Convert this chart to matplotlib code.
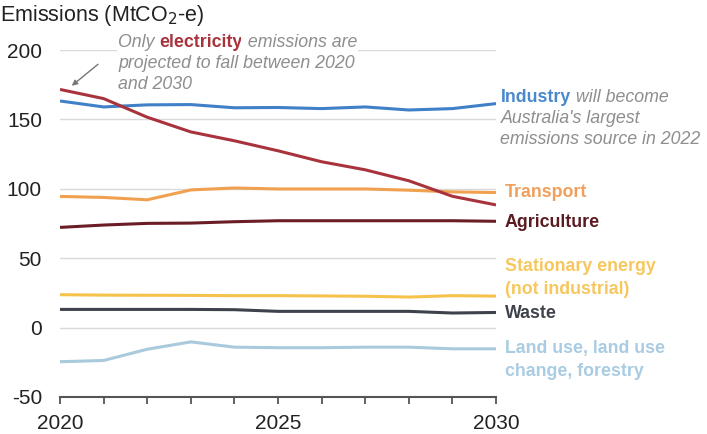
import matplotlib.pyplot as plt

plt.rcParams['font.family'] = ['Liberation Sans', 'DejaVu Sans']

years = list(range(2020, 2031))

electricity = [171.6, 165, 151.6, 141, 134.6, 127.4, 119.5, 113.7, 105.8, 94.6, 88.4]
industry = [163.3, 159, 160.5, 160.7, 158.4, 158.6, 157.8, 159, 156.8, 157.8, 161.4]
transport = [94.5, 93.8, 92.1, 99.2, 100.6, 99.9, 99.9, 99.9, 99, 97.8, 97.3]
agriculture = [72.2, 73.9, 75.1, 75.3, 76.3, 77, 77, 77, 77, 77, 76.6]
stationary = [23.7, 23.4, 23.3, 23.2, 23, 23, 22.8, 22.6, 22, 23, 22.7]
waste = [13.1, 13.1, 13.1, 13.1, 12.9, 11.7, 11.7, 11.7, 11.7, 10.5, 10.9]
lulucf = [-24.6, -23.7, -15.6, -10.3, -14.1, -14.5, -14.5, -14.1, -14.1, -15.3, -15.3]

fig = plt.figure(figsize=(7.07, 4.34), dpi=100)
ax = fig.add_axes([0.0849, 0.0853, 0.6167, 0.7994])

series = [
    (lulucf, '#a9c9dd'),
    (waste, '#3d424b'),
    (stationary, '#f5c24c'),
    (agriculture, '#6a1d25'),
    (transport, '#f0a04f'),
    (industry, '#3f80c6'),
    (electricity, '#a8333c'),
]
for vals, col in series:
    ax.plot(years, vals, color=col, lw=2.2, solid_capstyle='butt')

ax.set_xlim(2020, 2030)
ax.set_ylim(-50, 200)
ax.set_yticks([-50, 0, 50, 100, 150, 200])
ax.set_yticklabels(['-50', '0', '50', '100', '150', '200'])
ax.set_xticks(years)
ax.set_xticklabels(['2020', '', '', '', '', '2025', '', '', '', '', '2030'])
ax.tick_params(axis='y', length=0, pad=13, labelsize=15, labelcolor='#222222')
ax.tick_params(axis='x', direction='out', length=5, width=1.3, color='#555555',
               pad=7, labelsize=15, labelcolor='#222222')
for s in ['left', 'right', 'top']:
    ax.spines[s].set_visible(False)
ax.spines['bottom'].set_color('#555555')
ax.spines['bottom'].set_linewidth(1.5)
for v in [0, 50, 100, 150, 200]:
    ax.axhline(v, color='#d9d9d9', lw=1, zorder=0)

fig.text(0.0, 1 - 15 / 434, 'Emissions (MtCO$_2$-e)', fontsize=15.5,
         va='center', ha='left', color='#222222')

gray = '#8e8e8e'
fs = 12.8


def chain(first, parts):
    # put text pieces one after the other on a line
    prev = first
    for txt, kw in parts:
        prev = ax.annotate(txt, xy=(1, 0), xycoords=prev, va='bottom', ha='left',
                           fontsize=fs, annotation_clip=False, **kw)
    return prev


# annotation top-left
ann_x = 2021.33
t1 = ax.text(ann_x, 205.5, 'Only ', fontsize=fs, style='italic', color=gray,
             va='center', ha='left', bbox=dict(fc='white', ec='none', pad=1))
chain(t1, [('electricity', dict(color='#a8333c', weight='bold',
                                bbox=dict(fc='white', ec='none', pad=1))),
           (' emissions are', dict(color=gray, style='italic',
                                   bbox=dict(fc='white', ec='none', pad=1)))])
ax.text(ann_x, 190.4, 'projected to fall between 2020', fontsize=fs,
        style='italic', color=gray, va='center', ha='left')
ax.text(ann_x, 175.3, 'and 2030', fontsize=fs,
        style='italic', color=gray, va='center', ha='left')
ax.annotate('', xy=(2020.22, 173), xytext=(2020.92, 191),
            arrowprops=dict(arrowstyle='-|>', color='#777777', lw=1,
                            mutation_scale=8))

lx = 2030.1
# Industry
ti = ax.text(lx, 166, 'Industry', fontsize=fs, weight='bold', color='#4a89cc',
             va='center', ha='left', clip_on=False)
chain(ti, [(' will become', dict(color=gray, style='italic'))])
ax.text(lx, 150.5, "Australia's largest", fontsize=fs,
        style='italic', color=gray, va='center', ha='left')
ax.text(lx, 135.3, "emissions source in 2022", fontsize=fs,
        style='italic', color=gray, va='center', ha='left')

labels = [
    ('Transport', 97.7, '#f0a05c'),
    ('Agriculture', 75.4, '#5c1a21'),
    ('Stationary energy', 43.8, '#f7c75e'),
    ('(not industrial)', 27.3, '#f7c75e'),
    ('Waste', 10, '#3d424b'),
    ('Land use, land use', -15, '#a9cce2'),
    ('change, forestry', -31.6, '#a9cce2'),
]
for txt, yv, col in labels:
    ax.text(lx + 0.1, yv, txt, fontsize=fs, weight='bold', color=col,
            va='center', ha='left', clip_on=False)

fig.savefig('out.png', dpi=100)
